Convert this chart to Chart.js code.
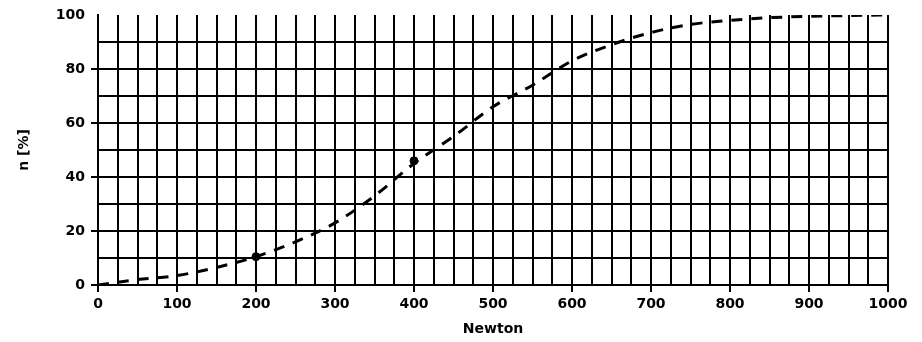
<!DOCTYPE html>
<html>
<head>
<meta charset="utf-8">
<script src="https://cdn.jsdelivr.net/npm/chart.js@4/dist/chart.umd.min.js"></script>
<style>
  body { margin: 0; background: #fff; }
  #wrap { width: 922px; height: 342px; }
</style>
</head>
<body>
<div id="wrap"><canvas id="curveChart" width="922" height="342"></canvas></div>
<script>
// Kraft in Newton und Anteil n [%]
const forceN = [0, 50, 100, 150, 200, 250, 300, 350, 400, 450, 500, 550, 600, 650, 700, 750, 800, 850, 900, 950, 1000];
const shareN = [0, 2, 3.5, 6.5, 10.5, 16, 23, 33, 45, 55, 66, 74, 83, 89, 93.5, 96.5, 98, 99, 99.5, 99.8, 100];
// markierte Messpunkte
const markX = [200, 400];
const markY = [10.5, 46];
const xLabels = [0, 100, 200, 300, 400, 500, 600, 700, 800, 900, 1000];
const yLabels = [0, 20, 40, 60, 80, 100];

const ink = '#000';
const font = { family: 'DejaVu Sans, Arial, sans-serif', size: 14, weight: 'bold' };

document.addEventListener('DOMContentLoaded', function() {
    const ctx = document.getElementById('curveChart').getContext('2d');
    new Chart(ctx, {
        type: 'line',
        data: {
            datasets: [{
                data: forceN.map((x, i) => ({ x: x, y: shareN[i] })),
                borderColor: ink,
                borderWidth: 3,
                borderDash: [11, 9],
                pointRadius: 0,
                cubicInterpolationMode: 'monotone',
                fill: false
            }, {
                type: 'scatter',
                data: markX.map((x, i) => ({ x: x, y: markY[i] })),
                backgroundColor: ink,
                borderColor: ink,
                pointRadius: 4
            }]
        },
        options: {
            responsive: false,
            animation: false,
            layout: { padding: { top: 15, right: 34, left: 12, bottom: 0 } },
            plugins: { legend: { display: false }, tooltip: { enabled: false } },
            scales: {
                x: {
                    type: 'linear',
                    min: 0,
                    max: 1000,
                    afterFit: function(s) { s.height = 57; },
                    afterBuildTicks: function(s) {
                        const t = [];
                        for (let v = 0; v <= 1000; v += 25) t.push({ value: v });
                        s.ticks = t;
                    },
                    ticks: {
                        autoSkip: false,
                        maxRotation: 0,
                        color: ink,
                        font: font,
                        padding: 4,
                        callback: v => xLabels.includes(v) ? String(v) : ''
                    },
                    grid: {
                        color: ink,
                        lineWidth: 2,
                        tickLength: 7,
                        tickColor: c => xLabels.includes(c.tick.value) ? ink : 'rgba(0,0,0,0)'
                    },
                    border: { color: ink, width: 2 },
                    title: { display: true, text: 'Newton', color: ink, font: font, padding: { top: 4 } }
                },
                y: {
                    min: 0,
                    max: 100,
                    afterFit: function(s) { s.width = 86; },
                    ticks: {
                        stepSize: 10,
                        autoSkip: false,
                        color: ink,
                        font: font,
                        padding: 6,
                        callback: v => yLabels.includes(v) ? String(v) : ''
                    },
                    grid: {
                        color: c => c.tick.value === 100 ? 'rgba(0,0,0,0)' : ink,
                        lineWidth: 2,
                        tickLength: 7,
                        tickColor: c => (yLabels.includes(c.tick.value) && c.tick.value !== 100) ? ink : 'rgba(0,0,0,0)'
                    },
                    border: { color: ink, width: 2 },
                    title: { display: true, text: 'n [%]', color: ink, font: font, padding: { bottom: 10 } }
                }
            }
        },
        plugins: [{
            // rechter Rahmen bei 1000
            id: 'rightEdge',
            afterDraw: function(chart) {
                const a = chart.chartArea;
                const c = chart.ctx;
                c.save();
                c.strokeStyle = ink;
                c.lineWidth = 2;
                c.beginPath();
                c.moveTo(a.right, a.top);
                c.lineTo(a.right, a.bottom);
                c.stroke();
                c.restore();
            }
        }]
    });
});
</script>
</body>
</html>
